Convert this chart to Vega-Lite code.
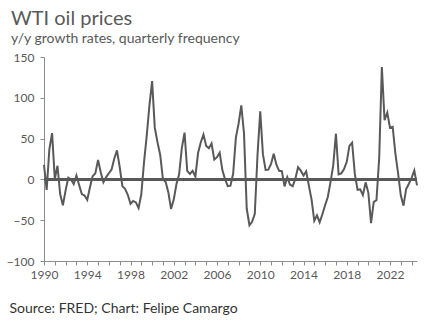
{
  "$schema": "https://vega.github.io/schema/vega-lite/v6.json",
  "width": 373,
  "height": 204,
  "autosize": {"type": "none"},
  "padding": {"left": 44, "top": 57, "right": 31, "bottom": 62},
  "background": "white",
  "title": {
    "text": "WTI oil prices",
    "subtitle": "y/y growth rates, quarterly frequency",
    "anchor": "start",
    "frame": "group",
    "dx": -33,
    "offset": 5,
    "font": "Lato",
    "fontSize": 20,
    "fontWeight": "normal",
    "color": "#595959",
    "subtitleFont": "Lato",
    "subtitleFontSize": 14,
    "subtitleColor": "#595959",
    "subtitlePadding": 3
  },
  "config": {
    "view": {"stroke": null},
    "axis": {
      "labelFont": "Lato",
      "labelFontSize": 12,
      "labelColor": "#595959",
      "domainColor": "#8c8c8c",
      "tickColor": "#8c8c8c",
      "grid": false
    }
  },
  "data": {
    "values": [
      {"q": "1990-01-01", "v": 17.9}, {"q": "1990-04-01", "v": -12.9}, {"q": "1990-07-01", "v": 36.8}, {"q": "1990-10-01", "v": 56.7},
      {"q": "1991-01-01", "v": 0.4}, {"q": "1991-04-01", "v": 16.7}, {"q": "1991-07-01", "v": -18.0}, {"q": "1991-10-01", "v": -31.8},
      {"q": "1992-01-01", "v": -13.5}, {"q": "1992-04-01", "v": 2.2}, {"q": "1992-07-01", "v": 0.0}, {"q": "1992-10-01", "v": -5.8},
      {"q": "1993-01-01", "v": 4.8}, {"q": "1993-04-01", "v": -6.8}, {"q": "1993-07-01", "v": -17.9}, {"q": "1993-10-01", "v": -19.8},
      {"q": "1994-01-01", "v": -25.1}, {"q": "1994-04-01", "v": -10.0}, {"q": "1994-07-01", "v": 3.9}, {"q": "1994-10-01", "v": 7.4},
      {"q": "1995-01-01", "v": 23.9}, {"q": "1995-04-01", "v": 8.8}, {"q": "1995-07-01", "v": -3.5}, {"q": "1995-10-01", "v": 2.8},
      {"q": "1996-01-01", "v": 7.5}, {"q": "1996-04-01", "v": 12.1}, {"q": "1996-07-01", "v": 25.4}, {"q": "1996-10-01", "v": 35.6},
      {"q": "1997-01-01", "v": 15.2}, {"q": "1997-04-01", "v": -8.2}, {"q": "1997-07-01", "v": -11.6}, {"q": "1997-10-01", "v": -18.9},
      {"q": "1998-01-01", "v": -29.8}, {"q": "1998-04-01", "v": -26.4}, {"q": "1998-07-01", "v": -28.2}, {"q": "1998-10-01", "v": -35.1},
      {"q": "1999-01-01", "v": -18.2}, {"q": "1999-04-01", "v": 20.4}, {"q": "1999-07-01", "v": 52.8}, {"q": "1999-10-01", "v": 90.1},
      {"q": "2000-01-01", "v": 120.5}, {"q": "2000-04-01", "v": 63.1}, {"q": "2000-07-01", "v": 45.5}, {"q": "2000-10-01", "v": 30.0},
      {"q": "2001-01-01", "v": 0.0}, {"q": "2001-04-01", "v": -3.0}, {"q": "2001-07-01", "v": -15.6}, {"q": "2001-10-01", "v": -36.2},
      {"q": "2002-01-01", "v": -24.8}, {"q": "2002-04-01", "v": -6.0}, {"q": "2002-07-01", "v": 6.3}, {"q": "2002-10-01", "v": 38.3},
      {"q": "2003-01-01", "v": 57.4}, {"q": "2003-04-01", "v": 10.4}, {"q": "2003-07-01", "v": 6.6}, {"q": "2003-10-01", "v": 10.5},
      {"q": "2004-01-01", "v": 3.4}, {"q": "2004-04-01", "v": 32.3}, {"q": "2004-07-01", "v": 45.2}, {"q": "2004-10-01", "v": 54.9},
      {"q": "2005-01-01", "v": 41.1}, {"q": "2005-04-01", "v": 38.3}, {"q": "2005-07-01", "v": 44.0}, {"q": "2005-10-01", "v": 24.2},
      {"q": "2006-01-01", "v": 27.2}, {"q": "2006-04-01", "v": 32.7}, {"q": "2006-07-01", "v": 11.4}, {"q": "2006-10-01", "v": 0.0},
      {"q": "2007-01-01", "v": -8.2}, {"q": "2007-04-01", "v": -7.7}, {"q": "2007-07-01", "v": 7.2}, {"q": "2007-10-01", "v": 51.3},
      {"q": "2008-01-01", "v": 68.6}, {"q": "2008-04-01", "v": 90.8}, {"q": "2008-07-01", "v": 56.4}, {"q": "2008-10-01", "v": -35.7},
      {"q": "2009-01-01", "v": -56.2}, {"q": "2009-04-01", "v": -52.0}, {"q": "2009-07-01", "v": -42.2}, {"q": "2009-10-01", "v": 30.4},
      {"q": "2010-01-01", "v": 83.3}, {"q": "2010-04-01", "v": 30.9}, {"q": "2010-07-01", "v": 11.5}, {"q": "2010-10-01", "v": 11.9},
      {"q": "2011-01-01", "v": 18.9}, {"q": "2011-04-01", "v": 31.4}, {"q": "2011-07-01", "v": 18.0}, {"q": "2011-10-01", "v": 10.5},
      {"q": "2012-01-01", "v": 10.0}, {"q": "2012-04-01", "v": -8.6}, {"q": "2012-07-01", "v": 2.7}, {"q": "2012-10-01", "v": -6.4},
      {"q": "2013-01-01", "v": -8.3}, {"q": "2013-04-01", "v": 0.7}, {"q": "2013-07-01", "v": 14.8}, {"q": "2013-10-01", "v": 10.7},
      {"q": "2014-01-01", "v": 4.7}, {"q": "2014-04-01", "v": 9.8}, {"q": "2014-07-01", "v": -7.6}, {"q": "2014-10-01", "v": -24.8},
      {"q": "2015-01-01", "v": -50.8}, {"q": "2015-04-01", "v": -44.0}, {"q": "2015-07-01", "v": -52.5}, {"q": "2015-10-01", "v": -42.7},
      {"q": "2016-01-01", "v": -31.6}, {"q": "2016-04-01", "v": -21.5}, {"q": "2016-07-01", "v": -3.4}, {"q": "2016-10-01", "v": 17.1},
      {"q": "2017-01-01", "v": 56.0}, {"q": "2017-04-01", "v": 6.2}, {"q": "2017-07-01", "v": 7.4}, {"q": "2017-10-01", "v": 12.7},
      {"q": "2018-01-01", "v": 21.5}, {"q": "2018-04-01", "v": 41.0}, {"q": "2018-07-01", "v": 44.9}, {"q": "2018-10-01", "v": 6.7},
      {"q": "2019-01-01", "v": -12.8}, {"q": "2019-04-01", "v": -12.1}, {"q": "2019-07-01", "v": -19.2}, {"q": "2019-10-01", "v": -3.6},
      {"q": "2020-01-01", "v": -16.5}, {"q": "2020-04-01", "v": -53.5}, {"q": "2020-07-01", "v": -27.5}, {"q": "2020-10-01", "v": -25.5},
      {"q": "2021-01-01", "v": 26.3}, {"q": "2021-04-01", "v": 137.7}, {"q": "2021-07-01", "v": 72.6}, {"q": "2021-10-01", "v": 81.8},
      {"q": "2022-01-01", "v": 63.4}, {"q": "2022-04-01", "v": 64.5}, {"q": "2022-07-01", "v": 32.0}, {"q": "2022-10-01", "v": 7.3},
      {"q": "2023-01-01", "v": -19.5}, {"q": "2023-04-01", "v": -32.2}, {"q": "2023-07-01", "v": -11.7}, {"q": "2023-10-01", "v": -5.3},
      {"q": "2024-01-01", "v": 1.9}, {"q": "2024-04-01", "v": 10.8}, {"q": "2024-07-01", "v": -7.4}
    ]
  },
  "encoding": {
    "x": {
      "field": "q",
      "type": "temporal",
      "scale": {
        "type": "utc",
        "domain": [
          {"year": 1990, "month": 1, "date": 1, "utc": true},
          {"year": 2024, "month": 7, "date": 1, "utc": true}
        ],
        "nice": false
      },
      "axis": {
        "tickCount": {"interval": "year", "step": 1},
        "labelExpr": "utcyear(datum.value) % 4 == 2 ? utcFormat(datum.value, '%Y') : ''",
        "labelOverlap": false,
        "labelFlush": false,
        "tickSize": 4,
        "labelPadding": 4,
        "title": "Source: FRED; Chart: Felipe Camargo",
        "titleFont": "Lato",
        "titleFontSize": 14,
        "titleFontWeight": "normal",
        "titleColor": "#333333",
        "titleAnchor": "start",
        "titleAlign": "left",
        "titleBaseline": "alphabetic",
        "titleX": -35,
        "titleY": 51
      }
    },
    "y": {
      "field": "v",
      "type": "quantitative",
      "scale": {"domain": [-100, 150], "nice": false},
      "axis": {
        "values": [-100, -50, 0, 50, 100, 150],
        "tickSize": 4,
        "labelPadding": 6,
        "title": null
      }
    }
  },
  "layer": [
    {
      "mark": {"type": "rule", "color": "#595959", "strokeWidth": 2},
      "encoding": {"y": {"datum": 0}, "x": null}
    },
    {
      "mark": {"type": "line", "color": "#595959", "strokeWidth": 2, "interpolate": "linear"}
    }
  ]
}
